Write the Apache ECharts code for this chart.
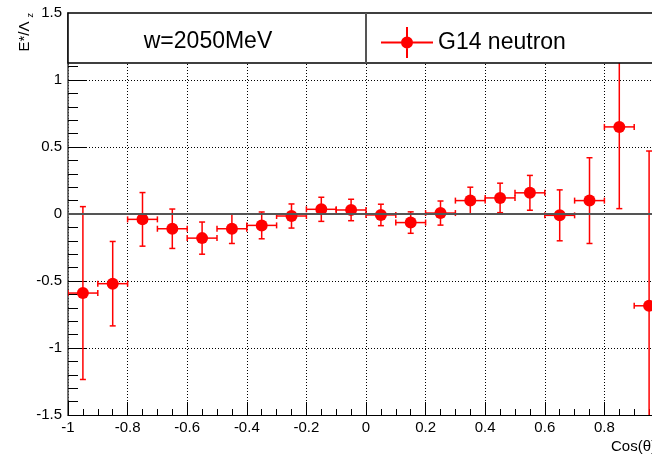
<!DOCTYPE html>
<html>
<head>
<meta charset="utf-8">
<script src="https://cdn.jsdelivr.net/npm/echarts@6/dist/echarts.min.js"></script>
<style>html,body{margin:0;padding:0;background:#fff;overflow:hidden}#c{width:700px;height:455px}</style>
</head>
<body>
<div id="c"></div>
<script>
// ---- data ----
const xCenters = [-0.95,-0.85,-0.75,-0.65,-0.55,-0.45,-0.35,-0.25,-0.15,-0.05,0.05,0.15,0.25,0.35,0.45,0.55,0.65,0.75,0.85,0.95];
const values   = [-0.59,-0.52,-0.04,-0.11,-0.18,-0.11,-0.085,-0.015,0.035,0.03,-0.007,-0.064,0.007,0.10,0.12,0.158,-0.01,0.10,0.65,-0.685];
const yErrors  = [0.645,0.315,0.20,0.147,0.12,0.11,0.10,0.09,0.09,0.08,0.08,0.08,0.09,0.10,0.11,0.13,0.19,0.32,0.61,1.155];
const xErrors  = [0.05,0.05,0.05,0.05,0.05,0.05,0.05,0.05,0.05,0.05,0.05,0.05,0.05,0.05,0.05,0.05,0.05,0.05,0.05,0.05];
const seriesName = 'G14 neutron';
const boxLabel = 'w=2050MeV';
const yTitle = 'E*/Λ';
const yTitleSub = 'z';
const xTitle = 'Cos(θ)';

const FONT = '"Liberation Sans", Arial, Helvetica, sans-serif';
const RED = '#ff0000';

const pts = xCenters.map((x, i) => [x, values[i], xErrors[i], yErrors[i]]);

const chart = echarts.init(document.getElementById('c'), null, {renderer: 'canvas'});

const legendIcon = 'path://M0 14.5h52v2H0Z M25 0h2v31h-2Z M20 15.5a6 6 0 1 1 12 0a6 6 0 1 1 -12 0Z';

chart.setOption({
  animation: false,
  backgroundColor: '#fff',
  grid: {left: 68, top: 13, width: 596, height: 402, containLabel: false},
  xAxis: {
    type: 'value', min: -1, max: 1, interval: 0.2,
    axisLine: {onZero: false, lineStyle: {color: '#000', width: 1}},
    axisTick: {inside: true, length: 13, lineStyle: {color: '#000'}},
    minorTick: {show: true, splitNumber: 4, length: 6, lineStyle: {color: '#000'}},
    splitLine: {show: true, lineStyle: {color: '#000', type: [1, 2], width: 1}},
    axisLabel: {color: '#000', fontSize: 15, fontFamily: FONT, margin: 5,
      formatter: v => String(Math.round(v * 10) / 10)}
  },
  yAxis: {
    type: 'value', min: -1.5, max: 1.5, interval: 0.5,
    axisLine: {onZero: false, lineStyle: {color: '#444', width: 1.5}},
    axisTick: {inside: true, length: 19, lineStyle: {color: '#000'}},
    minorTick: {show: true, splitNumber: 5, length: 10, lineStyle: {color: '#000'}},
    splitLine: {show: true, lineStyle: {color: '#000', type: [1, 2], width: 1}},
    axisLabel: {color: '#000', fontSize: 15, fontFamily: FONT, margin: 6,
      formatter: v => String(Math.round(v * 10) / 10)}
  },
  legend: {
    z: 60,
    left: 376, top: 22,
    itemWidth: 52, itemHeight: 31,
    icon: legendIcon,
    textStyle: {fontSize: 23, fontFamily: FONT, color: '#000'},
    data: [{name: seriesName, itemStyle: {color: RED}}]
  },
  series: [
    {
      name: seriesName + ' errors',
      type: 'custom',
      clip: true,
      z: 3,
      data: pts,
      renderItem: function (params, api) {
        const x = api.value(0), y = api.value(1), ex = api.value(2), ey = api.value(3);
        const c = api.coord([x, y]);
        const l = api.coord([x - ex, y]);
        const r = api.coord([x + ex, y]);
        const t = api.coord([x, y + ey]);
        const b = api.coord([x, y - ey]);
        const cap = 3;
        const st = {stroke: RED, lineWidth: 1.5};
        return {
          type: 'group',
          children: [
            {type: 'line', shape: {x1: l[0], y1: c[1], x2: r[0], y2: c[1]}, style: st},
            {type: 'line', shape: {x1: c[0], y1: t[1], x2: c[0], y2: b[1]}, style: st},
            {type: 'line', shape: {x1: l[0], y1: c[1] - cap, x2: l[0], y2: c[1] + cap}, style: st},
            {type: 'line', shape: {x1: r[0], y1: c[1] - cap, x2: r[0], y2: c[1] + cap}, style: st},
            {type: 'line', shape: {x1: c[0] - cap, y1: t[1], x2: c[0] + cap, y2: t[1]}, style: st},
            {type: 'line', shape: {x1: c[0] - cap, y1: b[1], x2: c[0] + cap, y2: b[1]}, style: st}
          ]
        };
      }
    },
    {
      name: seriesName,
      type: 'scatter',
      z: 4,
      symbol: 'circle',
      symbolSize: 12,
      itemStyle: {color: RED, opacity: 1},
      data: pts.map(p => [p[0], p[1]]),
      markLine: {
        silent: true, symbol: 'none', label: {show: false},
        lineStyle: {color: '#555', type: 'solid', width: 2},
        data: [{yAxis: 0}]
      }
    }
  ],
  graphic: [
    {type: 'rect', z: 50, shape: {x: 68, y: 13, width: 620, height: 50},
      style: {fill: '#fff', stroke: '#000', lineWidth: 1.5}},
    {type: 'line', z: 51, shape: {x1: 366, y1: 13, x2: 366, y2: 63},
      style: {stroke: '#555', lineWidth: 2}},
    {type: 'text', z: 51, x: 208, y: 42,
      style: {text: boxLabel, fontSize: 23, fontFamily: FONT, fill: '#000', align: 'center', verticalAlign: 'middle'}},
    {type: 'text', z: 51, x: 25, y: 13, rotation: Math.PI / 2,
      style: {text: '{a|' + yTitle + '}{s|' + yTitleSub + '}', align: 'right', verticalAlign: 'middle',
        rich: {a: {fontSize: 15, fontFamily: FONT, fill: '#000'},
               s: {fontSize: 9, fontFamily: FONT, fill: '#000', verticalAlign: 'bottom', padding: [12, 0, 0, 4]}}}},
    {type: 'text', z: 51, x: 611, y: 447,
      style: {text: xTitle, fontSize: 15, fontFamily: FONT, fill: '#000', align: 'left', verticalAlign: 'middle'}}
  ]
});
</script>
</body>
</html>
